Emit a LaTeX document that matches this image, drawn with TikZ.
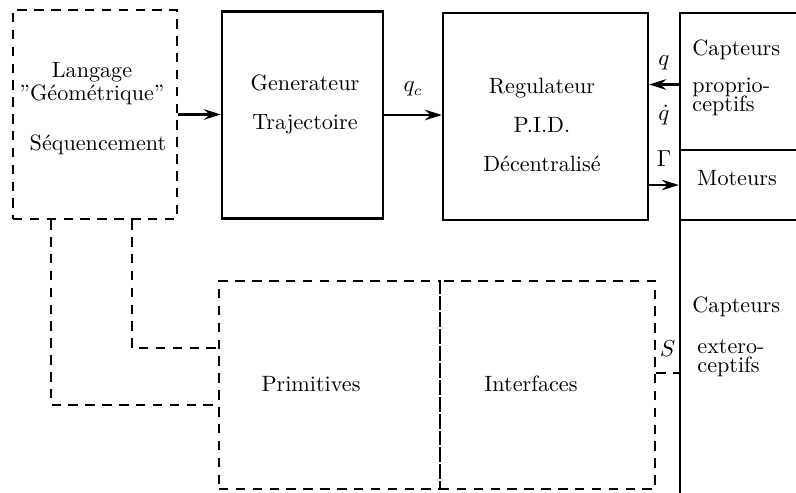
\documentclass[tikz,border=0pt]{standalone}
\usepackage{fontspec}
\usetikzlibrary{calc,arrows.meta}
\tikzset{
    block/.style = {draw, rectangle, line width=1.1pt},
    dblock/.style = {draw, rectangle, line width=1.1pt, dash pattern=on 4.5pt off 3.5pt},
    dline/.style = {draw, line width=1.1pt, dash pattern=on 4.5pt off 3.5pt},
    arrow/.style = {draw, line width=1.1pt, -{Stealth[length=8pt,width=5pt]}}
}
\begin{document}
\begin{tikzpicture}[x=0.016667cm, y=-0.016667cm, font=\fontsize{10.5}{12.6}\selectfont]
    \useasboundingbox (0,0) rectangle (796,493);
    \clip (0,0) rectangle (796,493);
        % upper chain
        \node [dblock, minimum width=2.733cm, minimum height=3.483cm] (lang) at (95,114.5) {};
        \node [block, minimum width=2.683cm, minimum height=3.45cm] (gen) at (302.5,115) {};
        \node [block, minimum width=3.417cm, minimum height=3.45cm] (reg) at (545.5,116.5) {};
        \node [block, minimum width=2.333cm, minimum height=2.283cm] (capp) at (750,81.5) {};
        \node [block, minimum width=2.333cm, minimum height=1.167cm] (mot) at (750,185) {};
        \node [block, minimum width=2.333cm, minimum height=5.333cm] (capx) at (750,380) {};
        % lower dashed boxes
        \node [dblock, minimum width=3.683cm, minimum height=3.467cm] (prim) at (329.5,385) {};
        \node [dblock, minimum width=3.583cm, minimum height=3.467cm] (intf) at (547.5,385) {};
        % texts
        \node [align=center] (langtxt) at (92,83.5) {Langage\\[-1.5pt]"Géométrique"};
        \node (seqtxt) at (98,145) {Séquencement};
        \node [align=center] (gentxt) at (305,104.5) {Generateur\\[6pt]Trajectoire};
        \node [align=center] (regtxt) at (542,125) {Regulateur\\[6pt]P.I.D.\\[6pt]Décentralisé};
        \node [anchor=west] (capptxt) at (685,50) {Capteurs};
        \node [anchor=west, align=left] (proptxt) at (685,97) {proprio-\\[-3.5pt]ceptifs};
        \node (mottxt) at (737,178) {Moteurs};
        \node [anchor=west] (capxtxt) at (685,307) {Capteurs};
        \node [anchor=west, align=left] (exttxt) at (690,358) {extero-\\[-3.5pt]ceptifs};
        \node (primtxt) at (311,384) {Primitives};
        \node (intftxt) at (531,384) {Interfaces};
        % connectors
        \draw [arrow] (lang.east) -- (lang.east -| gen.west);
        \draw [arrow] (gen.east) -- node [above=5pt] {$q_c$} (gen.east -| reg.west);
        \draw [arrow] ($(capp.west)+(0,3)$) -- node [above=3pt] {$q$} node [below=6pt] {$\dot q$} ($(capp.west -| reg.east)+(0,3)$);
        \draw [arrow] (mot.west -| reg.east) -- node [above=5pt] {$\Gamma$} (mot.west);
        \draw [dline] ($(intf.east)+(0,-12)$) -- node [above=4pt] {$S$} ($(intf.east -| capx.west)+(0,-12)$);
        \draw [dline] ($(lang.south west)+(120,0)$) |- ($(prim.west)+(0,-37)$);
        \draw [dline] ($(lang.south west)+(39,0)$) |- ($(prim.west)+(0,20)$);
\end{tikzpicture}
\end{document}
